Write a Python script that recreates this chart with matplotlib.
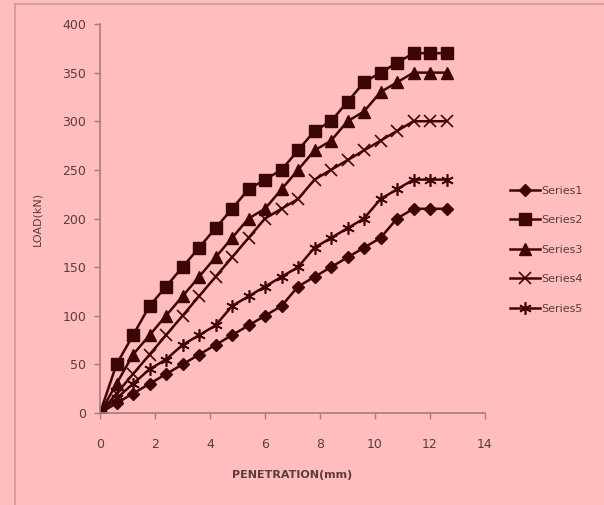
import matplotlib.pyplot as plt
from matplotlib.patches import Rectangle

# --- données ---
penetration = [0, 0.6, 1.2, 1.8, 2.4, 3.0, 3.6, 4.2, 4.8, 5.4, 6.0, 6.6,
               7.2, 7.8, 8.4, 9.0, 9.6, 10.2, 10.8, 11.4, 12.0, 12.6]
series1 = [0, 10, 20, 30, 40, 50, 60, 70, 80, 90, 100, 110,
           130, 140, 150, 160, 170, 180, 200, 210, 210, 210]
series2 = [0, 50, 80, 110, 130, 150, 170, 190, 210, 230, 240, 250,
           270, 290, 300, 320, 340, 350, 360, 370, 370, 370]
series3 = [0, 30, 60, 80, 100, 120, 140, 160, 180, 200, 210, 230,
           250, 270, 280, 300, 310, 330, 340, 350, 350, 350]
series4 = [0, 20, 40, 60, 80, 100, 120, 140, 160, 180, 200, 210,
           220, 240, 250, 260, 270, 280, 290, 300, 300, 300]
series5 = [0, 15, 30, 45, 55, 70, 80, 90, 110, 120, 130, 140,
           150, 170, 180, 190, 200, 220, 230, 240, 240, 240]
labels = ["Series1", "Series2", "Series3", "Series4", "Series5"]

bg = '#ffbdbd'
ink = '#3d0606'
axis_col = '#a87c7c'
txt_col = '#5a3c3c'

fig = plt.figure(figsize=(6.04, 5.05), dpi=100, facecolor=bg)
# cadre extérieur
fig.patches.append(Rectangle((15 / 604, -0.01), 1.0, 1 - 4 / 505 + 0.01,
                             transform=fig.transFigure, fill=False,
                             edgecolor='#c99a9a', linewidth=1.2))

ax = fig.add_axes([100 / 604, 1 - 413 / 505, 385 / 604, 389 / 505])
ax.set_facecolor(bg)

styles = [dict(marker='D', markersize=6),
          dict(marker='s', markersize=8.5),
          dict(marker='^', markersize=8),
          dict(marker='x', markersize=8, markeredgewidth=1.2),
          dict(marker=(6, 2, 0), markersize=9, markeredgewidth=1.2)]
for ys, lab, st in zip([series1, series2, series3, series4, series5], labels, styles):
    ax.plot(penetration, ys, color=ink, linewidth=1.8, label=lab,
            markerfacecolor=ink, markeredgecolor=ink, **st)

ax.set_xlim(0, 14)
ax.set_ylim(0, 400)
ax.set_xticks(range(0, 15, 2))
ax.set_yticks(range(0, 401, 50))
for s in ['top', 'right']:
    ax.spines[s].set_visible(False)
for s in ['left', 'bottom']:
    ax.spines[s].set_color(axis_col)
    ax.spines[s].set_linewidth(1.2)
ax.tick_params(colors=axis_col, labelcolor=txt_col, labelsize=9, length=4, width=1)
ax.tick_params(axis='x', pad=14)
ax.tick_params(axis='y', pad=6)

ax.set_xlabel("PENETRATION(mm)", fontsize=8, color=txt_col, fontweight='bold', labelpad=14)
ax.set_ylabel("LOAD(kN)", fontsize=8, color=txt_col, labelpad=14)

ax.legend(loc='center left', bbox_to_anchor=(1.04, 0.42), frameon=False,
          fontsize=8, labelcolor=txt_col, handlelength=2.7, handletextpad=0.05,
          labelspacing=1.75)

fig.savefig("out.png", dpi=100, facecolor=bg)
